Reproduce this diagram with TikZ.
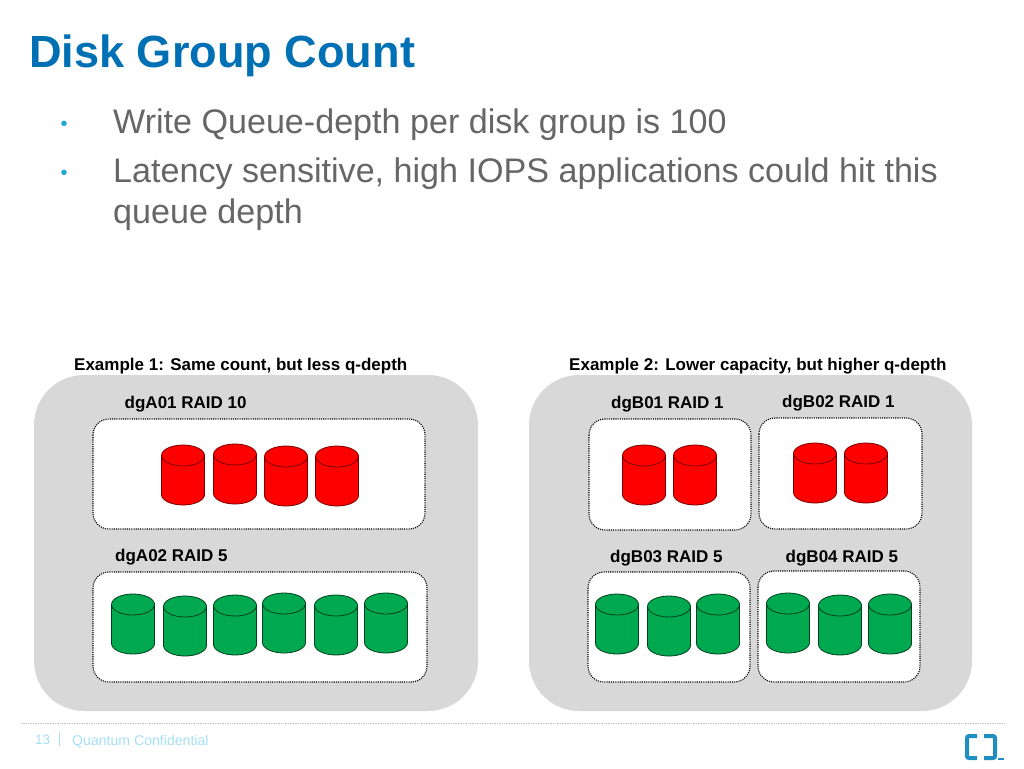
\documentclass[tikz,border=0pt]{standalone}
\usepackage{fontspec}
\setmainfont{Liberation Sans}
\definecolor{titleblue}{HTML}{0070B5}
\definecolor{bodygray}{HTML}{666666}
\definecolor{bulletblue}{HTML}{1FA7CC}
\definecolor{panelgray}{HTML}{D8D8D8}
\definecolor{footblue}{HTML}{A6E0F5}
\definecolor{redrim}{HTML}{7A0000}
\definecolor{greenrim}{HTML}{00401C}
\definecolor{diskgreen}{HTML}{00A94F}
\definecolor{logoblue}{HTML}{1E8FC0}
\tikzset{
  x=1pt,y=-1pt,
  panel/.style={fill=panelgray,draw=none,rounded corners=50pt},
  groupbox/.style={fill=white,draw=black,dash pattern=on 1.1pt off 1.1pt,line width=1.1pt,rounded corners=16pt},
  lab/.style={anchor=base west,inner sep=0pt,font=\fontsize{17}{17}\selectfont\bfseries,text=black},
  bodytext/.style={anchor=base west,inner sep=0pt,font=\fontsize{34.1}{34.1}\selectfont,text=bodygray},
  bull/.style={anchor=base,inner sep=0pt,font=\fontsize{20}{20}\selectfont,text=bulletblue},
  pics/disk/.style n args={2}{code={
    \path[fill=#1,draw=#2,line width=0.8pt]
      (-21.5,10.5) -- (-21.5,49.5) arc[x radius=21.5,y radius=-10.5,start angle=180,end angle=360]
      -- (21.5,10.5) arc[x radius=21.5,y radius=-10.5,start angle=0,end angle=180] -- cycle;
    \path[draw=#2,line width=0.8pt]
      (-21.5,10.5) arc[x radius=21.5,y radius=-10.5,start angle=180,end angle=360];
  }},
}
\newcommand{\reddisk}[2]{\pic at (#1,#2) {disk={red}{redrim}};}
\newcommand{\greendisk}[2]{\pic at (#1,#2) {disk={diskgreen}{greenrim}};}
\begin{document}
\begin{tikzpicture}
\useasboundingbox[fill=white] (0,0) rectangle (1024,768);
\node[anchor=base west,inner sep=0pt,font=\fontsize{45.1}{45.1}\selectfont\bfseries,text=titleblue] (title) at (29,67) {Disk Group Count};
\node[bull] (b1) at (64,130) {•};
\node[bull] (b2) at (64,179) {•};
\node[bodytext] (l1) at (113,133) {Write Queue-depth per disk group is 100};
\node[bodytext] (l2) at (113,182) {Latency sensitive, high IOPS applications could hit this};
\node[bodytext] (l3) at (113,223) {queue depth};

\node[lab] (ex1) at (74,370) {Example 1: Same count, but less q-depth};
\node[lab] (ex2) at (569,370) {Example 2: Lower capacity, but higher q-depth};

\path[panel] (34,375) rectangle (478,711);
\path[panel] (529,375) rectangle (972,711);

\node[lab] (a1) at (124.5,408.5) {dgA01 RAID 10};
\node[lab] (a2) at (115,561.5) {dgA02 RAID 5};
\node[lab] (b1l) at (611,408.5) {dgB01 RAID 1};
\node[lab] (b2l) at (782,407.5) {dgB02 RAID 1};
\node[lab] (b3l) at (610,562) {dgB03 RAID 5};
\node[lab] (b4l) at (785.5,562) {dgB04 RAID 5};

\path[groupbox] (93,419) rectangle (425,529);
\path[groupbox] (93,572) rectangle (427,682);
\path[groupbox] (589,419) rectangle (751,530);
\path[groupbox] (759,418) rectangle (922,529);
\path[groupbox] (588,572) rectangle (750,682);
\path[groupbox] (758,571) rectangle (920,682);

\reddisk{183}{445}\reddisk{235}{444}\reddisk{286}{446}\reddisk{337}{446}
\greendisk{133}{594}\greendisk{185}{596}\greendisk{235}{595}\greendisk{284}{593}\greendisk{336}{595}\greendisk{386}{593}
\reddisk{644}{445}\reddisk{695}{445}\reddisk{815}{443}\reddisk{866}{443}
\greendisk{617}{594}\greendisk{669}{596}\greendisk{718}{594}
\greendisk{788}{593}\greendisk{840}{595}\greendisk{890}{594}

\draw[gray!45,densely dotted,line width=0.7pt] (21,723.5) -- (1004,723.5);
\node[anchor=base west,inner sep=0pt,font=\fontsize{13.5}{13.5}\selectfont,text=footblue] (pg) at (35,744.5) {13};
\draw[footblue,line width=0.8pt] (59,732) -- (59,746);
\node[anchor=base west,inner sep=0pt,font=\fontsize{14.1}{14.1}\selectfont,text=footblue] (conf) at (72,745.5) {Quantum Confidential};

\draw[logoblue,line width=4pt,rounded corners=2pt] (977,736) -- (967,736) -- (967,758) -- (977,758);
\draw[logoblue,line width=4pt,rounded corners=2pt] (984,736) -- (995,736) -- (995,758) -- (984,758);
\fill[logoblue] (998,758) rectangle (1004,760);
\end{tikzpicture}
\end{document}
